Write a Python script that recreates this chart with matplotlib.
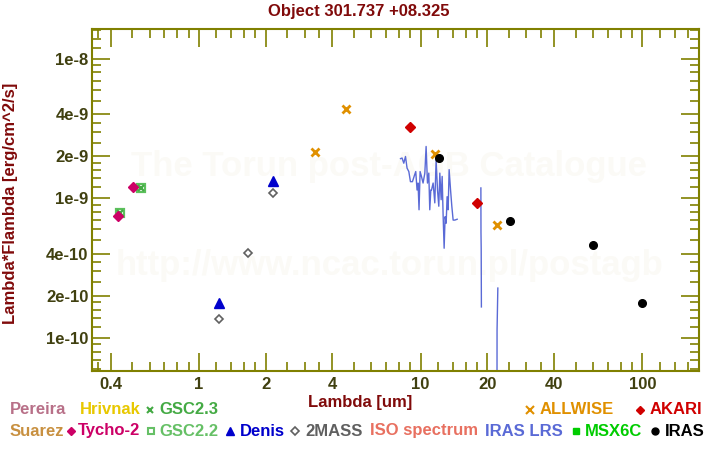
import numpy as np
import matplotlib
matplotlib.use("Agg")
import matplotlib.pyplot as plt
from matplotlib.lines import Line2D
from matplotlib.ticker import FixedLocator, FuncFormatter, NullFormatter

plt.rcParams['font.family'] = ['Liberation Sans', 'DejaVu Sans']
plt.rcParams['font.weight'] = 'bold'

title = "Object 301.737 +08.325"

# photometry (wavelength in um, lambda*F_lambda in erg/cm^2/s)
tycho_wl = [0.504, 0.431]
tycho_flux = [1.20e-9, 7.54e-10]
gsc22_wl = [0.549, 0.441]
gsc22_flux = [1.19e-9, 7.85e-10]
gsc23_wl = [0.549, 0.441]
gsc23_flux = [1.19e-9, 7.85e-10]
denis_wl = [1.23, 2.15]
denis_flux = [1.77e-10, 1.34e-9]
twomass_wl = [1.23, 1.66, 2.15]
twomass_flux = [1.37e-10, 4.05e-10, 1.10e-9]
allwise_wl = [3.34, 4.6, 11.6, 22.1]
allwise_flux = [2.15e-9, 4.38e-9, 2.08e-9, 6.47e-10]
akari_wl = [8.93, 17.9]
akari_flux = [3.25e-9, 9.35e-10]
iras_wl = [12.05, 25.2, 60.1, 100.0]
iras_flux = [1.95e-9, 6.87e-10, 4.65e-10, 1.77e-10]

# IRAS LRS spectrum, flux in units of 1e-10 (nan = gap)
lrs_wl = [8.12, 8.25, 8.40, 8.55, 8.69, 8.85, 9.00, 9.19, 9.35, 9.51,
          9.64, 9.74, 9.84, 9.95, 10.09, 10.26, 10.45, 10.59, 10.74, 10.89,
          11.00, 11.12, 11.20, 11.39, 11.59, 11.75, 11.92, 12.08, 12.21, 12.38,
          12.51, 12.64, 12.77, 12.90, 13.04, 13.17, 13.31, 13.45, 13.65, 13.83,
          14.02, 14.27, 14.62, 16.5, 18.70, 18.72, 18.76, 18.80, 20.5, 22.10,
          22.12, 22.30]
lrs_flux = [19.3, 19.5, 17.9, 20.0, 16.5, 15.6, 13.2, 13.2, 14.4, 15.6,
            11.5, 12.9, 8.3, 15.6, 14.4, 12.9, 15.2, 23.6, 12.9, 15.2,
            8.3, 11.5, 11.5, 12.9, 9.3, 18.9, 11.5, 8.8, 15.2, 9.8,
            14.4, 7.4, 4.4, 7.4, 6.65, 10.3, 8.3, 16.1, 11.5, 8.8,
            7.0, 7.0, 7.1, np.nan, 11.9, 5.7, 4.4, 1.67, np.nan, 0.3,
            1.14, 2.28]

x_limits = (0.33, 180)
y_limits = (5.8e-11, 1.64e-8)

dark_red = '#800a0a'
olive = '#808000'
tick_text = '#404010'
watermark = '#fbfaf6'

fig = plt.figure(figsize=(7.2, 4.5), dpi=100)
ax = fig.add_axes([92 / 720, 1 - 371 / 450, 607 / 720, 342 / 450])
ax.set_xscale('log')
ax.set_yscale('log')
ax.set_xlim(*x_limits)
ax.set_ylim(*y_limits)

# watermark
ax.text(0.49, 0.570, "The Torun post-AGB Catalogue", transform=ax.transAxes,
        ha='center', va='baseline', fontsize=25, color=watermark, zorder=0)
ax.text(0.49, 0.281, "http://www.ncac.torun.pl/postagb", transform=ax.transAxes,
        ha='center', va='baseline', fontsize=25, color=watermark, zorder=0)

ax.plot(lrs_wl, np.array(lrs_flux) * 1e-10, color='#5a6ad6', lw=1, zorder=2)

ax.plot(gsc22_wl, gsc22_flux, 's', ms=5.5, mfc='none', mec='#5cc05c', mew=1.6, zorder=3)
ax.plot(gsc23_wl, gsc23_flux, 'x', ms=5, mec='#44aa44', mew=1.6, zorder=3)
ax.plot(tycho_wl, tycho_flux, 'D', ms=5, color='#cc0066', zorder=3)
ax.plot(denis_wl, denis_flux, '^', ms=6.5, color='#0000cc', zorder=3)
ax.plot(twomass_wl, twomass_flux, 'D', ms=4.5, mfc='white', mec='#606060', mew=1.2, zorder=3)
ax.plot(allwise_wl, allwise_flux, 'x', ms=5.5, mec='#e09000', mew=2, zorder=4)
ax.plot(akari_wl, akari_flux, 'D', ms=5, color='#d00000', zorder=3)
ax.plot(iras_wl, iras_flux, 'o', ms=5.5, color='black', zorder=4)

# ticks: 1,2,4 major, finer minors in every decade (only inside the view)
decades = [10.0 ** k for k in range(-12, 4)]
majors = [m * d for d in decades for m in (1, 2, 4)]
minors = [m * d for d in decades for m in (1.2, 1.4, 1.6, 1.8, 2.5, 3, 3.5, 5, 6, 7, 8, 9)]


def inside(ticks, lim):
    return [t for t in ticks if lim[0] <= t <= lim[1]]


def yfmt(v, pos):
    e = int(np.floor(np.log10(v) + 1e-9))
    m = int(round(v / 10 ** e))
    return f"{m}e{e}"


for axis, lim in ((ax.xaxis, x_limits), (ax.yaxis, y_limits)):
    axis.set_major_locator(FixedLocator(inside(majors, lim)))
    axis.set_minor_locator(FixedLocator(inside(minors, lim)))
    axis.set_minor_formatter(NullFormatter())
ax.xaxis.set_major_formatter(FuncFormatter(lambda v, p: f"{v:g}"))
ax.yaxis.set_major_formatter(FuncFormatter(yfmt))

ax.tick_params(which='both', direction='in', top=True, right=True, color=olive,
               width=1.2, labelsize=12, labelcolor=tick_text)
ax.tick_params(which='major', length=13)
ax.tick_params(which='minor', length=6.5)
ax.tick_params(axis='x', pad=4.5)
ax.tick_params(axis='y', pad=2.5)
for s in ax.spines.values():
    s.set_color(olive)
    s.set_linewidth(1.5)

fig.text(359 / 720, 1 - 11.5 / 450, title, ha='center', va='center',
         fontsize=12, color=dark_red)
fig.text(360 / 720, 1 - 403 / 450, "Lambda [um]", ha='center', va='center',
         fontsize=12, color=dark_red)
fig.text(10.5 / 720, 1 - 203 / 450, "Lambda*Flambda [erg/cm^2/s]", ha='center',
         va='center', rotation=90, fontsize=12, color=dark_red)

# legend at the bottom: (label, color, marker, marker kwargs, x marker px, x text px, y px)
legend_items = [
    ("Pereira", '#b87088', None, {}, None, 10, 410),
    ("Hrivnak", '#e8c800', None, {}, None, 80, 410),
    ("GSC2.3", '#44aa44', 'x', dict(ms=4, mew=1.5), 150, 159, 410),
    ("ALLWISE", '#e09000', 'x', dict(ms=5.5, mew=1.5), 530, 540, 410),
    ("AKARI", '#d00000', 'D', dict(ms=4.5), 640, 650, 410),
    ("Suarez", '#c89040', None, {}, None, 10, 431),
    ("Tycho-2", '#cc0066', 'D', dict(ms=4.5), 70.5, 77.5, 431),
    ("GSC2.2", '#66c066', 's', dict(ms=4, mfc='none', mew=1.5), 150.5, 159, 431),
    ("Denis", '#0000cc', '^', dict(ms=5.5), 230, 240, 431),
    ("2MASS", '#606060', 'D', dict(ms=4, mfc='white', mew=1.2), 295, 305, 431),
    ("ISO spectrum", '#e87060', None, {}, None, 370, 431),
    ("IRAS LRS", '#5a6ad6', None, {}, None, 485, 431),
    ("MSX6C", '#00cc00', 's', dict(ms=4.5), 575.5, 585, 431),
    ("IRAS", 'black', 'o', dict(ms=5), 655, 665, 431),
]
for label, color, marker, mkw, xm, xt, yp in legend_items:
    if marker is not None:
        kw = dict(mec=color, mfc=color)
        kw.update(mkw)
        fig.add_artist(Line2D([xm / 720], [1 - yp / 450], marker=marker, ls='none',
                              transform=fig.transFigure, **kw))
    fig.text(xt / 720, 1 - yp / 450, label, ha='left', va='center',
             fontsize=12, color=color)

fig.savefig("out.png", dpi=100)
